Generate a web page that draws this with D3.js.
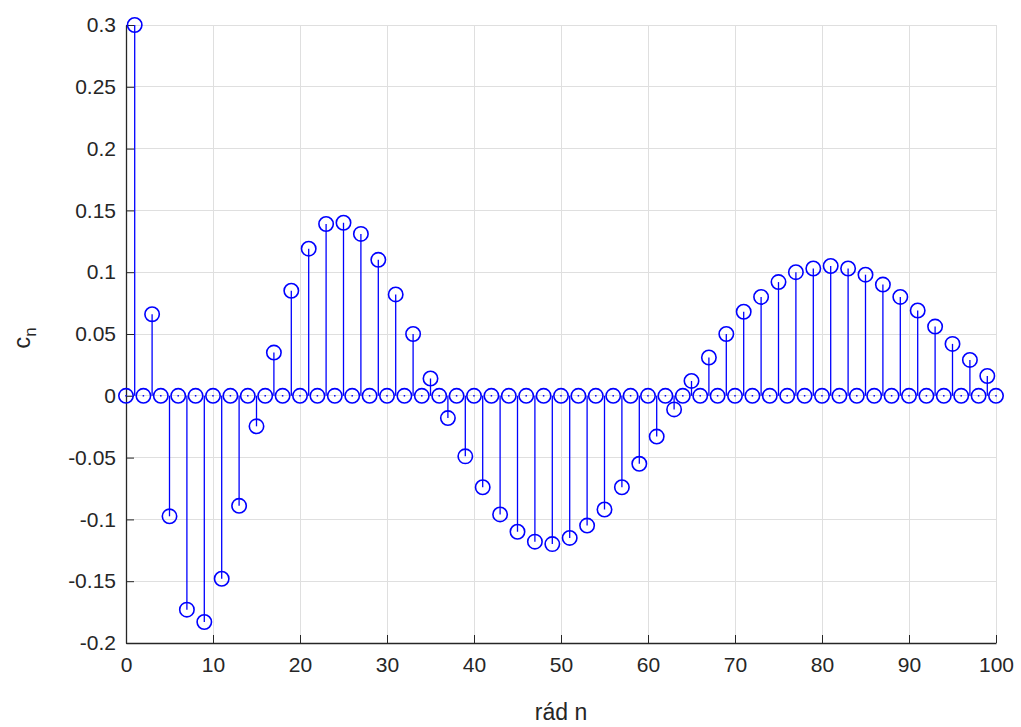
<!DOCTYPE html>
<html><head><meta charset="utf-8">
<script src="https://cdn.jsdelivr.net/npm/d3@7"></script>
<style>body{margin:0;background:#fff}svg{display:block}</style>
</head><body>
<svg id="c" width="1021" height="727"></svg>
<script>
// odd-order coefficients (even orders are zero)
const oddN = [1,3,5,7,9,11,13,15,17,19,21,23,25,27,29,31,33,35,37,39,41,43,45,47,49,51,53,55,57,59,61,63,65,67,69,71,73,75,77,79,81,83,85,87,89,91,93,95,97,99];
const oddValues = [0.300,0.066,-0.0975,-0.173,-0.183,-0.148,-0.089,-0.0247,0.035,0.085,0.119,0.139,0.140,0.131,0.110,0.082,0.050,0.014,-0.018,-0.049,-0.074,-0.096,-0.110,-0.118,-0.120,-0.115,-0.105,-0.092,-0.074,-0.055,-0.033,-0.011,0.012,0.031,0.050,0.068,0.080,0.092,0.100,0.103,0.105,0.103,0.098,0.090,0.080,0.069,0.056,0.042,0.029,0.016];
const xTicks = [0,10,20,30,40,50,60,70,80,90,100];
const yTicks = [-0.2,-0.15,-0.1,-0.05,0,0.05,0.1,0.15,0.2,0.25,0.3];
const xLabel = "rád n";

const data = [];
for (let n = 0; n <= 100; n++) {
  const i = oddN.indexOf(n);
  data.push({n, v: i >= 0 ? oddValues[i] : 0});
}

const svg = d3.select("#c");
const L = 126, R = 996, T = 25, B = 643;
const x = d3.scaleLinear().domain([0,100]).range([L,R]);
const y = d3.scaleLinear().domain([-0.2,0.3]).range([B,T]);
const font = "'Liberation Sans', Arial, sans-serif";

// grid
const g = svg.append("g");
g.selectAll(".gx").data(xTicks).join("line")
  .attr("x1",d=>x(d)).attr("x2",d=>x(d)).attr("y1",T).attr("y2",B)
  .attr("stroke","#dfdfdf").attr("stroke-width",1).attr("shape-rendering","crispEdges");
g.selectAll(".gy").data(yTicks).join("line")
  .attr("x1",L).attr("x2",R).attr("y1",d=>y(d)).attr("y2",d=>y(d))
  .attr("stroke","#dfdfdf").attr("stroke-width",1).attr("shape-rendering","crispEdges");

// axes
const ax = svg.append("g").attr("transform",`translate(0,${B})`)
  .call(d3.axisBottom(x).tickValues(xTicks).tickSizeInner(-8).tickSizeOuter(0).tickPadding(14).tickFormat(d=>String(d)));
const ay = svg.append("g").attr("transform",`translate(${L},0)`)
  .call(d3.axisLeft(y).tickValues(yTicks).tickSizeInner(-8).tickSizeOuter(0).tickPadding(10).tickFormat(d=>String(+d.toFixed(2))));
[ax, ay].forEach(a => {
  a.select(".domain").attr("stroke","#262626").attr("stroke-width",1.3);
  a.selectAll(".tick line").attr("stroke","#262626").attr("stroke-width",1);
  a.selectAll("text").attr("fill","#262626").style("font-family",font).style("font-size","21px");
});

// stems
const s = svg.append("g");
s.selectAll("line.stem").data(data).join("line").attr("class","stem")
  .attr("x1",d=>x(d.n)).attr("x2",d=>x(d.n))
  .attr("y1",y(0)).attr("y2",d=>y(d.v))
  .attr("stroke","#0000ff").attr("stroke-width",1.3);
s.selectAll("rect.dot").data(data.filter(d=>d.v===0)).join("rect").attr("class","dot")
  .attr("x",d=>x(d.n)-0.75).attr("y",y(0)-0.75).attr("width",1.5).attr("height",1.5)
  .attr("fill","#0000ff");
s.selectAll("circle").data(data).join("circle")
  .attr("cx",d=>x(d.n)).attr("cy",d=>y(d.v)).attr("r",7.2)
  .attr("fill","none").attr("stroke","#0000ff").attr("stroke-width",1.6);

// labels
svg.append("text").attr("x",(L+R)/2).attr("y",720).attr("text-anchor","middle")
  .attr("fill","#262626").style("font-family",font).style("font-size","23px").text(xLabel);
const yl = svg.append("text").attr("transform",`translate(30,${y(0.05)+4}) rotate(-90)`)
  .attr("text-anchor","middle").attr("fill","#262626").style("font-family",font).style("font-size","24px");
yl.append("tspan").text("c");
yl.append("tspan").attr("dy",6).attr("font-size","17px").text("n");
</script>
</body></html>
